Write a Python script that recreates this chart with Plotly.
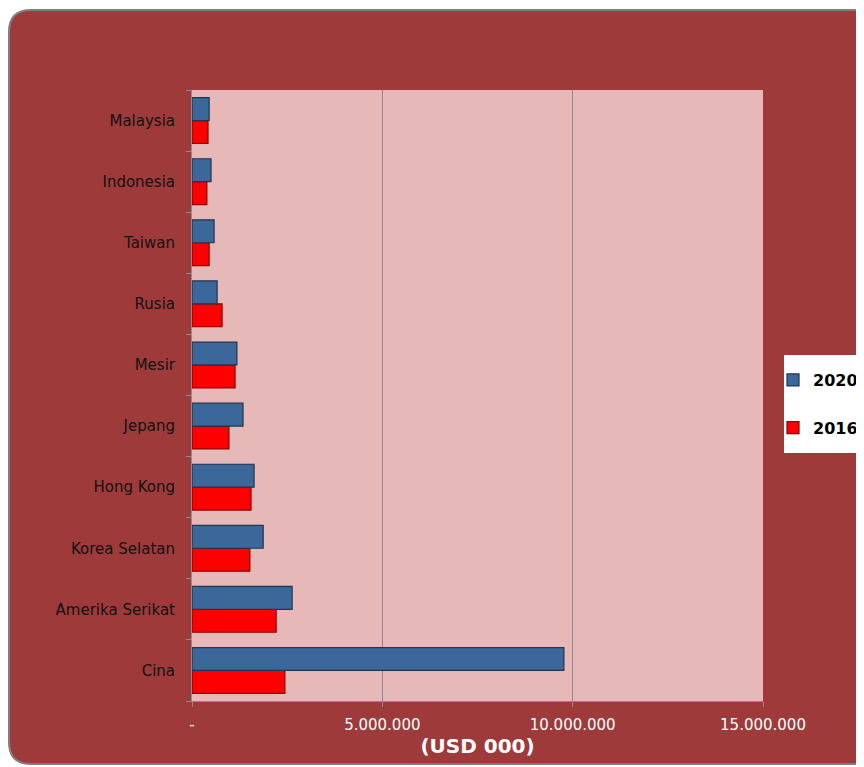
import plotly.graph_objects as go

categories = ["Cina", "Amerika Serikat", "Korea Selatan", "Hong Kong", "Jepang",
              "Mesir", "Rusia", "Taiwan", "Indonesia", "Malaysia"]
values_2020 = [9770000, 2630000, 1870000, 1630000, 1340000, 1180000, 660000, 580000, 500000, 450000]
values_2016 = [2440000, 2210000, 1520000, 1550000, 970000, 1130000, 790000, 450000, 390000, 420000]
tick_vals = [0, 5000000, 10000000, 15000000]
tick_text = ["-", "5.000.000", "10.000.000", "15.000.000"]

FONT = "DejaVu Sans"

# The page has an 8px body margin; figure sized to fill the rest of the window
W, H = 856, 759
L, R, T, B = 184, 101, 82, 66
OFF = 8

fig = go.Figure()
fig.add_trace(go.Bar(
    y=categories, x=values_2016, name="2016", orientation="h",
    legendgroup="g2016", legendrank=2,
    marker=dict(color="#FF0000", line=dict(color="#8B0000", width=1.2)),
))
fig.add_trace(go.Bar(
    y=categories, x=values_2020, name="2020", orientation="h",
    legendgroup="g2020", legendrank=1,
    marker=dict(color="#3C679B", line=dict(color="#1F3550", width=1.2)),
))

pw = W - L - R
ph = H - T - B
def px(x):  # page pixel -> paper x
    return (x - OFF - L) / pw
def py(y):  # page pixel -> paper y
    return 1 - (y - OFF - T) / ph

x0, x1, y0, y1, r = 9, 890, 10, 764, 22
path = (f"M {px(x0 + r)},{py(y0)} L {px(x1 - r)},{py(y0)} "
        f"Q {px(x1)},{py(y0)} {px(x1)},{py(y0 + r)} "
        f"L {px(x1)},{py(y1 - r)} Q {px(x1)},{py(y1)} {px(x1 - r)},{py(y1)} "
        f"L {px(x0 + r)},{py(y1)} Q {px(x0)},{py(y1)} {px(x0)},{py(y1 - r)} "
        f"L {px(x0)},{py(y0 + r)} Q {px(x0)},{py(y0)} {px(x0 + r)},{py(y0)} Z")

fig.update_layout(
    width=W, height=H,
    margin=dict(l=L, r=R, t=T, b=B, autoexpand=False),
    paper_bgcolor="white",
    plot_bgcolor="rgba(0,0,0,0)",
    barmode="group",
    bargap=0.25,
    bargroupgap=0.0,
    showlegend=True,
    legend=dict(
        x=(773 - OFF) / W, y=1 - (363 - OFF) / H,
        xref="container", yref="container", xanchor="left", yanchor="top",
        traceorder="grouped",
        bgcolor="rgba(0,0,0,0)",
        font=dict(family=FONT, size=16, color="black", weight="bold"),
        tracegroupgap=24,
        itemwidth=30,
    ),
    font=dict(family=FONT),
    shapes=[
        dict(type="path", xref="paper", yref="paper", layer="below", path=path,
             fillcolor="#9E3B3A", line=dict(color="#7F7F7F", width=2)),
        dict(type="rect", xref="paper", yref="paper", layer="below",
             x0=0, x1=1, y0=0, y1=1, fillcolor="#E6B8B7", line=dict(width=0)),
        dict(type="rect", xref="paper", yref="paper", layer="below",
             x0=px(784), x1=px(870), y0=py(453), y1=py(355),
             fillcolor="white", line=dict(width=0)),
    ],
)

fig.update_xaxes(
    range=[0, 15000000],
    tickvals=tick_vals, ticktext=tick_text,
    showgrid=True, gridcolor="#8C8C8C", gridwidth=1,
    showline=True, linecolor="#8C8C8C", linewidth=1,
    ticks="outside", ticklen=5, tickcolor="#8C8C8C",
    tickfont=dict(family=FONT, size=15, color="white"),
    ticklabelstandoff=5,
    zeroline=False,
    title=dict(text="<b>(USD 000)</b>", font=dict(family=FONT, size=20, color="white"), standoff=5),
)
fig.update_yaxes(
    showline=True, linecolor="#8C8C8C", linewidth=1,
    ticks="outside", ticklen=5, tickcolor="#8C8C8C", tickson="boundaries",
    tickfont=dict(family=FONT, size=15, color="#111111"),
    showgrid=False,
    ticklabelstandoff=13,
)

fig.write_html("out.html")
